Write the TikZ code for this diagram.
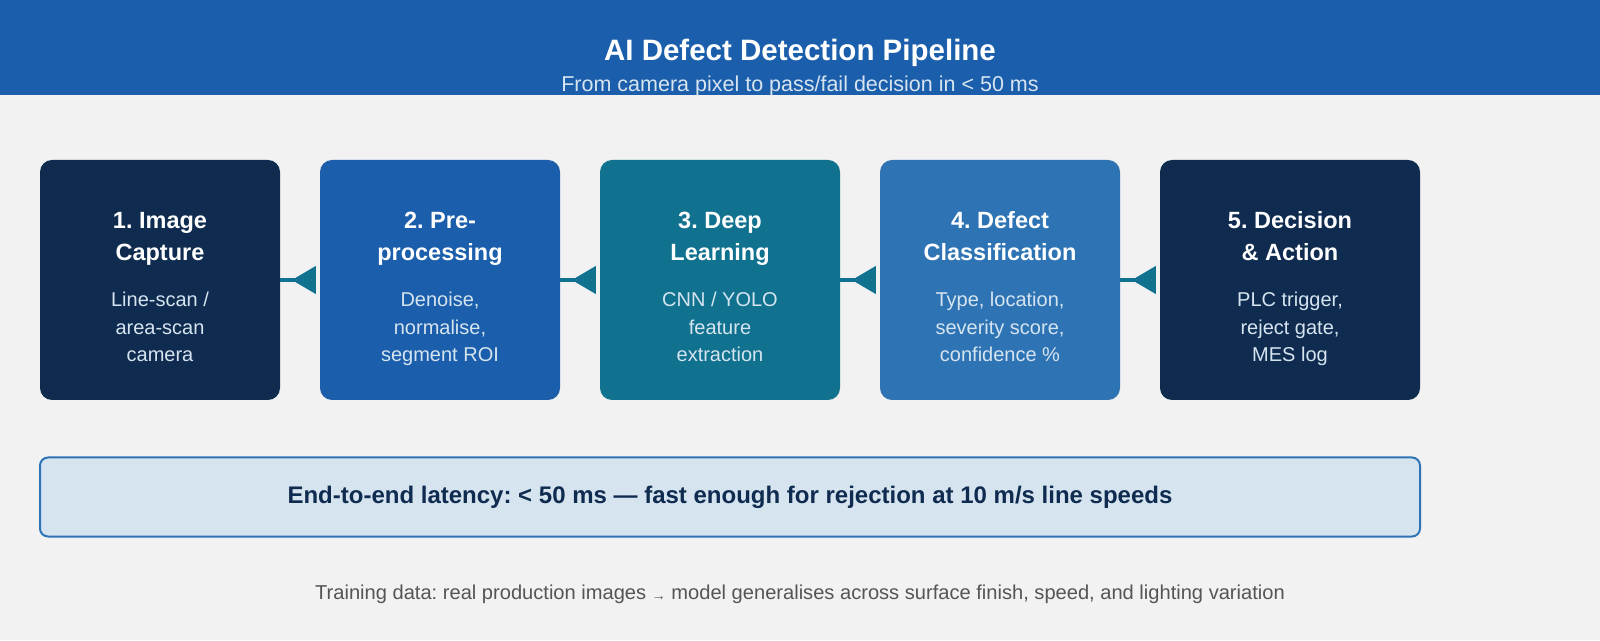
\documentclass[tikz,border=0pt]{standalone}
\usepackage{fontspec}
\setmainfont{Liberation Sans}
\usepackage{xcolor}
\usetikzlibrary{arrows.meta,positioning,calc}
\frenchspacing
\definecolor{canvas}{HTML}{F2F2F2}
\definecolor{header}{HTML}{1B5EAB}
\definecolor{navy}{HTML}{0F2B4F}
\definecolor{royal}{HTML}{1B5EAB}
\definecolor{teal}{HTML}{10728F}
\definecolor{steel}{HTML}{2E74B5}
\definecolor{pale}{HTML}{D6E4F0}
\definecolor{muted}{HTML}{555555}
\tikzset{
  stage/.style={rounded corners=12pt, minimum width=240pt, minimum height=240pt,
                inner sep=0pt, draw=none},
  stagetitle/.style={text=white, align=center, inner sep=0pt, anchor=base,
                     font=\fontsize{23.5}{32}\selectfont\bfseries},
  stagebody/.style={text=pale, align=center, inner sep=0pt, anchor=base,
                    font=\fontsize{20}{27.5}\selectfont},
  flow/.style={draw=teal, line width=4pt, shorten >=4pt,
               -{Triangle[reversed,length=24pt,width=27pt]}},
  banner/.style={draw=steel, fill=pale, rounded corners=8pt, line width=2pt,
                 minimum width=1380pt, minimum height=79pt, inner sep=0pt,
                 text=navy, font=\fontsize{24}{28}\selectfont\bfseries}
}
\begin{document}
\begin{tikzpicture}[x=1pt,y=1pt]
  \fill[canvas] (0,0) rectangle (1600,640);
  \useasboundingbox (0,0) rectangle (1600,640);
  \fill[header] (0,545) rectangle (1600,640);
  \node[text=white,font=\fontsize{29.5}{34}\selectfont\bfseries] (title) at (800,587)
    {AI Defect Detection Pipeline};
  \node[text=pale,font=\fontsize{21.5}{26}\selectfont] (subtitle) at (800,554)
    {From camera pixel to pass/fail decision in < 50 ms};

  % stages
  \node[stage,fill=navy] (cap) at (160,360) {};
  \node[stage,fill=royal] (pre) at (440,360) {};
  \node[stage,fill=teal] (deep) at (720,360) {};
  \node[stage,fill=steel] (cls) at (1000,360) {};
  \node[stage,fill=navy,minimum width=260pt] (act) at (1290,360) {};

  \node[stagetitle] (capT) at ($(cap)+(0,19)$) {1. Image\\Capture};
  \node[stagebody] (capB) at ($(cap)+(0,-82)$) {Line-scan /\\area-scan\\camera};
  \node[stagetitle] (preT) at ($(pre)+(0,19)$) {2. Pre-\\processing};
  \node[stagebody] (preB) at ($(pre)+(0,-82)$) {Denoise,\\normalise,\\segment ROI};
  \node[stagetitle] (deepT) at ($(deep)+(0,19)$) {3. Deep\\Learning};
  \node[stagebody] (deepB) at ($(deep)+(0,-82)$) {CNN / YOLO\\feature\\extraction};
  \node[stagetitle] (clsT) at ($(cls)+(0,19)$) {4. Defect\\Classification};
  \node[stagebody] (clsB) at ($(cls)+(0,-82)$) {Type, location,\\severity score,\\confidence \%};
  \node[stagetitle] (actT) at ($(act)+(0,19)$) {5. Decision\\\& Action};
  \node[stagebody] (actB) at ($(act)+(0,-82)$) {PLC trigger,\\reject gate,\\MES log};

  \draw[flow] (cap.east) -- (pre.west);
  \draw[flow] (pre.east) -- (deep.west);
  \draw[flow] (deep.east) -- (cls.west);
  \draw[flow] (cls.east) -- (act.west);

  \node[banner] (latency) at (730,143)
    {End-to-end latency: < 50 ms --- fast enough for rejection at 10 m/s line speeds};

  \node[text=muted,font=\fontsize{20.1}{24}\selectfont] (note) at (800,46)
    {Training data: real production images \raisebox{-1.5pt}{\fontsize{14}{14}\selectfont →} model generalises across surface finish, speed, and lighting variation};
\end{tikzpicture}
\end{document}
